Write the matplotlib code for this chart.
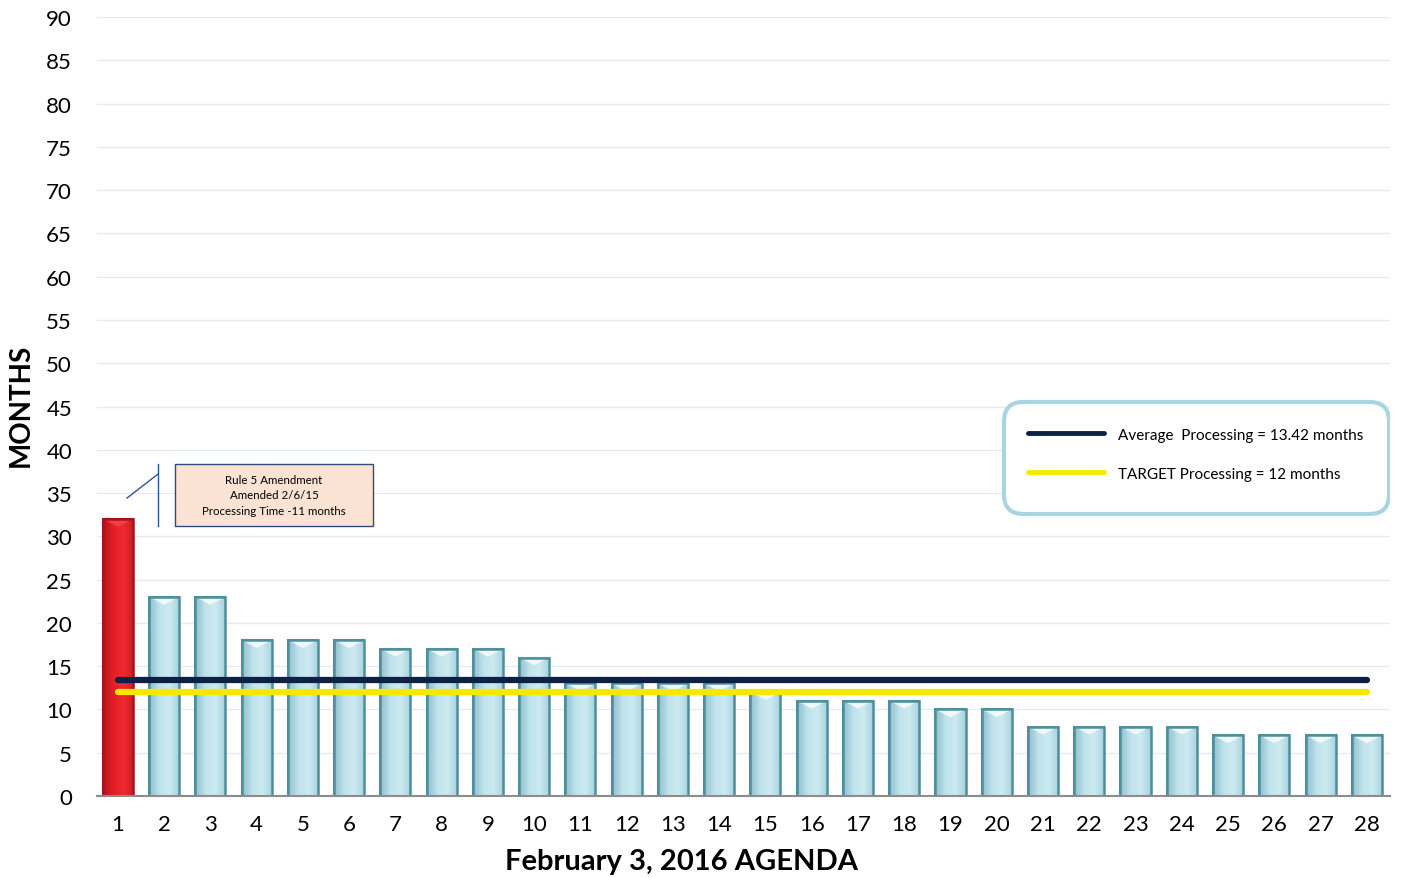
import matplotlib
matplotlib.use("Agg")
import matplotlib.pyplot as plt
import numpy as np
from matplotlib.patches import Polygon, Rectangle, FancyBboxPatch
from matplotlib.lines import Line2D

categories = list(range(1, 29))
months = [32, 23, 23, 18, 18, 18, 17, 17, 17, 16, 13, 13, 13, 13, 12,
          11, 11, 11, 10, 10, 8, 8, 8, 8, 7, 7, 7, 7]
average = 13.42
target = 12
y_ticks = list(range(0, 95, 5))
avg_label = "Average  Processing = 13.42 months"
target_label = "TARGET Processing = 12 months"
note_text = "Rule 5 Amendment\nAmended 2/6/15\nProcessing Time -11 months"

plt.rcParams['font.family'] = ['Lato', 'DejaVu Sans']

fig = plt.figure(figsize=(14.02, 8.79), dpi=100)
ax = fig.add_axes([0.0692, 0.0933, 0.9222, 0.8862])

colors = ['#e41e26'] + ['#b5dde8'] * (len(months) - 1)
edges = ['#a8141b'] + ['#4f8e9c'] * (len(months) - 1)
bars = ax.bar(categories, months, width=0.65, color=colors, edgecolor=edges,
              linewidth=1.5, zorder=3)

for i, b in enumerate(bars):
    x0, w, h = b.get_x(), b.get_width(), b.get_height()
    if i == 0:
        cmap = matplotlib.colors.LinearSegmentedColormap.from_list(
            'r', ['#b8141b', '#e41e26', '#ee2a30', '#d01a22'])
    else:
        cmap = matplotlib.colors.LinearSegmentedColormap.from_list(
            'b', ['#8ebfcc', '#bfe3ec', '#cdeaf1', '#a6d2de'])
    grad = np.linspace(0, 1, 64).reshape(1, -1)
    im = ax.imshow(grad, extent=[x0, x0 + w, 0, h], aspect='auto', cmap=cmap,
                   zorder=3.5, interpolation='bilinear')
    im.set_clip_path(b)
    bev = 0.9
    tri = Polygon([[x0, h], [x0 + w, h], [x0 + w / 2, h - bev]], closed=True,
                  facecolor='white' if i else '#f24a50', alpha=0.75,
                  edgecolor='none', zorder=3.6)
    ax.add_patch(tri)
    outline = Rectangle((x0, 0), w, h, fill=False, edgecolor=edges[i],
                        linewidth=1.8, zorder=3.7)
    ax.add_patch(outline)

ax.plot([categories[0], categories[-1]], [average, average], color='#0c2143',
        lw=4.5, solid_capstyle='round', zorder=5)
ax.plot([categories[0], categories[-1]], [target, target], color='#f7e800',
        lw=4.5, solid_capstyle='round', zorder=5)

ax.set_xlim(0.55, 28.5)
ax.set_ylim(0, 90)
ax.set_yticks(y_ticks)
ax.set_xticks(categories)
ax.tick_params(axis='both', length=0, labelsize=16, colors='black')
ax.tick_params(axis='x', pad=13)
ax.tick_params(axis='y', pad=18)
ax.grid(axis='y', color='#e6ebf2', lw=1, zorder=0)
for s in ['left', 'right', 'top']:
    ax.spines[s].set_visible(False)
ax.spines['bottom'].set_color('#8c8c8c')
ax.spines['bottom'].set_linewidth(1.5)
ax.spines['bottom'].set_zorder(6)

ax.set_xlabel("February 3, 2016 AGENDA", fontsize=21, fontweight='bold')
ax.xaxis.set_label_coords(0.452, -0.0672)
ax.set_ylabel("MONTHS", fontsize=20, fontweight='bold')
ax.yaxis.set_label_coords(-0.0487, 0.503)

# callout box
ax.add_patch(Rectangle((0.0603, 0.3466), 0.1531, 0.0796, transform=ax.transAxes,
                       facecolor='#fbe3d4', edgecolor='#2f4b7c', lw=1, zorder=6))
ax.text(0.1369, 0.3864, note_text, transform=ax.transAxes, ha='center', va='center',
        fontsize=8.3, linespacing=1.5, zorder=7)
ax.plot([0.0472, 0.0472], [0.3466, 0.4262], transform=ax.transAxes,
        color='#2f5597', lw=1, zorder=6)
ax.plot([0.0232, 0.0472], [0.3825, 0.4133], transform=ax.transAxes,
        color='#2f5597', lw=1, zorder=6)

# legend frame
aspect = (1293 / 779)
ax.add_patch(FancyBboxPatch((0.7015, 0.362), 0.2978, 0.1438, transform=ax.transAxes,
                            boxstyle='round,pad=0,rounding_size=0.015',
                            mutation_aspect=aspect, facecolor='white',
                            edgecolor='#a9d5e1', lw=3, zorder=7))

handles = [Line2D([0], [0], color='#0c2143', lw=3.5, solid_capstyle='round'),
           Line2D([0], [0], color='#f7e800', lw=3.5, solid_capstyle='round')]
leg = ax.legend(handles, [avg_label, target_label], loc='upper left',
                bbox_to_anchor=(0.72, 0.473), fontsize=11, frameon=False,
                handlelength=5.0, handletextpad=0.9, labelspacing=1.65,
                borderpad=0, borderaxespad=0)
leg.set_zorder(8)

fig.savefig('out.png', dpi=100)
